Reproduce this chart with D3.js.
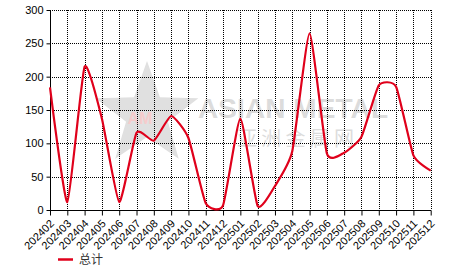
<!DOCTYPE html>
<html><head><meta charset="utf-8">
<script src="https://cdn.jsdelivr.net/npm/d3@7"></script>
<style>
html,body{margin:0;padding:0;background:#fff;}
svg{display:block;font-family:"Liberation Sans",Arial,sans-serif;}
</style></head>
<body>
<svg id="chart" width="466" height="272"></svg>
<script>
const categories = ["202402","202403","202404","202405","202406","202407","202408","202409","202410","202411","202412","202501","202502","202503","202504","202505","202506","202507","202508","202509","202510","202511","202512"];
const totalValues = [184, 12, 215, 137, 12, 116, 104, 141, 108, 10, 7, 137, 6, 36, 88, 265, 85, 86, 110, 187, 185, 82, 59];
const yTicks = [0, 50, 100, 150, 200, 250, 300];
const seriesName = "总计";

(function(){
const svg = d3.select("#chart");
const L = 50, R0 = 430.7, T = 10, B = 210;
const x = d3.scalePoint().domain(categories).range([L, R0]);
const y = d3.scaleLinear().domain([0, 300]).range([B, T]);

// watermark
const wm = svg.append("g");
const cx = 147, cy = 115, R = 54, r = 22;
const pts = d3.range(10).map(i => {
  const a = -Math.PI/2 + i*Math.PI/5;
  const rr = i % 2 ? r : R;
  return [cx + rr*Math.cos(a), cy + rr*Math.sin(a)];
});
wm.append("polygon").attr("points", pts.map(p=>p.join(",")).join(" "))
  .attr("fill", "#e0e0e0");
wm.append("text").attr("x", 140).attr("y", 124).attr("text-anchor","middle")
  .attr("font-size", 16).attr("font-weight","bold").attr("fill","#f6cccc").text("AM");
wm.append("text").attr("x", 198).attr("y", 118).attr("font-size", 28).attr("font-weight","bold")
  .attr("fill","#dcdcdc").attr("textLength", 190).text("ASIAN METAL");
wm.append("text").attr("x", 237).attr("y", 146).attr("font-size", 20)
  .attr("font-family","Noto Sans CJK SC").attr("fill","#dcdcdc").attr("textLength", 117).text("亚洲金属网");

// grid
const grid = svg.append("g").attr("stroke", "#000").attr("stroke-dasharray", "1,1").attr("shape-rendering","crispEdges");
yTicks.forEach(t => {
  if (t === 0) return;
  grid.append("line").attr("x1", L).attr("x2", R0).attr("y1", Math.round(y(t))+0.5).attr("y2", Math.round(y(t))+0.5);
});
categories.forEach((c, i) => {
  if (i === 0) return;
  grid.append("line").attr("x1", Math.round(x(c))+0.5).attr("x2", Math.round(x(c))+0.5).attr("y1", T).attr("y2", B);
});

// axes
const yAxis = svg.append("g").attr("transform", `translate(${L+0.5},0)`)
  .call(d3.axisLeft(y).tickValues(yTicks).tickSize(4).tickPadding(3).tickFormat(d3.format("d")));
yAxis.select(".domain").attr("stroke","#000").attr("d", `M0,${T}V${B+0.5}`);
yAxis.selectAll("text").attr("font-size", 11).attr("fill","#000").attr("font-family",'"Liberation Sans",Arial,sans-serif');

const xAxis = svg.append("g").attr("transform", `translate(0,${B+0.5})`)
  .call(d3.axisBottom(x).tickSize(5).tickPadding(2));
xAxis.select(".domain").attr("stroke","#000").attr("d", `M${L},0H${R0+0.5}`);
xAxis.selectAll(".tick line").attr("stroke","#000");
xAxis.selectAll("text").attr("font-size", 11).attr("fill","#000").attr("font-family",'"Liberation Sans",Arial,sans-serif')
  .attr("text-anchor","end").attr("x", 0).attr("y", 0).attr("dy", "0.35em")
  .attr("transform", "translate(1.5,11) rotate(-45)");

// line
const line = d3.line().x((d,i) => x(categories[i])).y(d => y(d)).curve(d3.curveCardinal.tension(0.5));
svg.append("path").datum(totalValues).attr("d", line).attr("fill","none")
  .attr("stroke", "#e0001b").attr("stroke-width", 2.2).attr("stroke-linejoin","round");

// legend
const lg = svg.append("g");
lg.append("line").attr("x1", 58).attr("x2", 73).attr("y1", 259.5).attr("y2", 259.5).attr("stroke","#e0001b").attr("stroke-width", 2.5);
lg.append("text").attr("x", 79).attr("y", 264).attr("font-size", 12).attr("fill","#333")
  .attr("font-family","Noto Sans CJK SC").text(seriesName);
})();
</script>
</body></html>
